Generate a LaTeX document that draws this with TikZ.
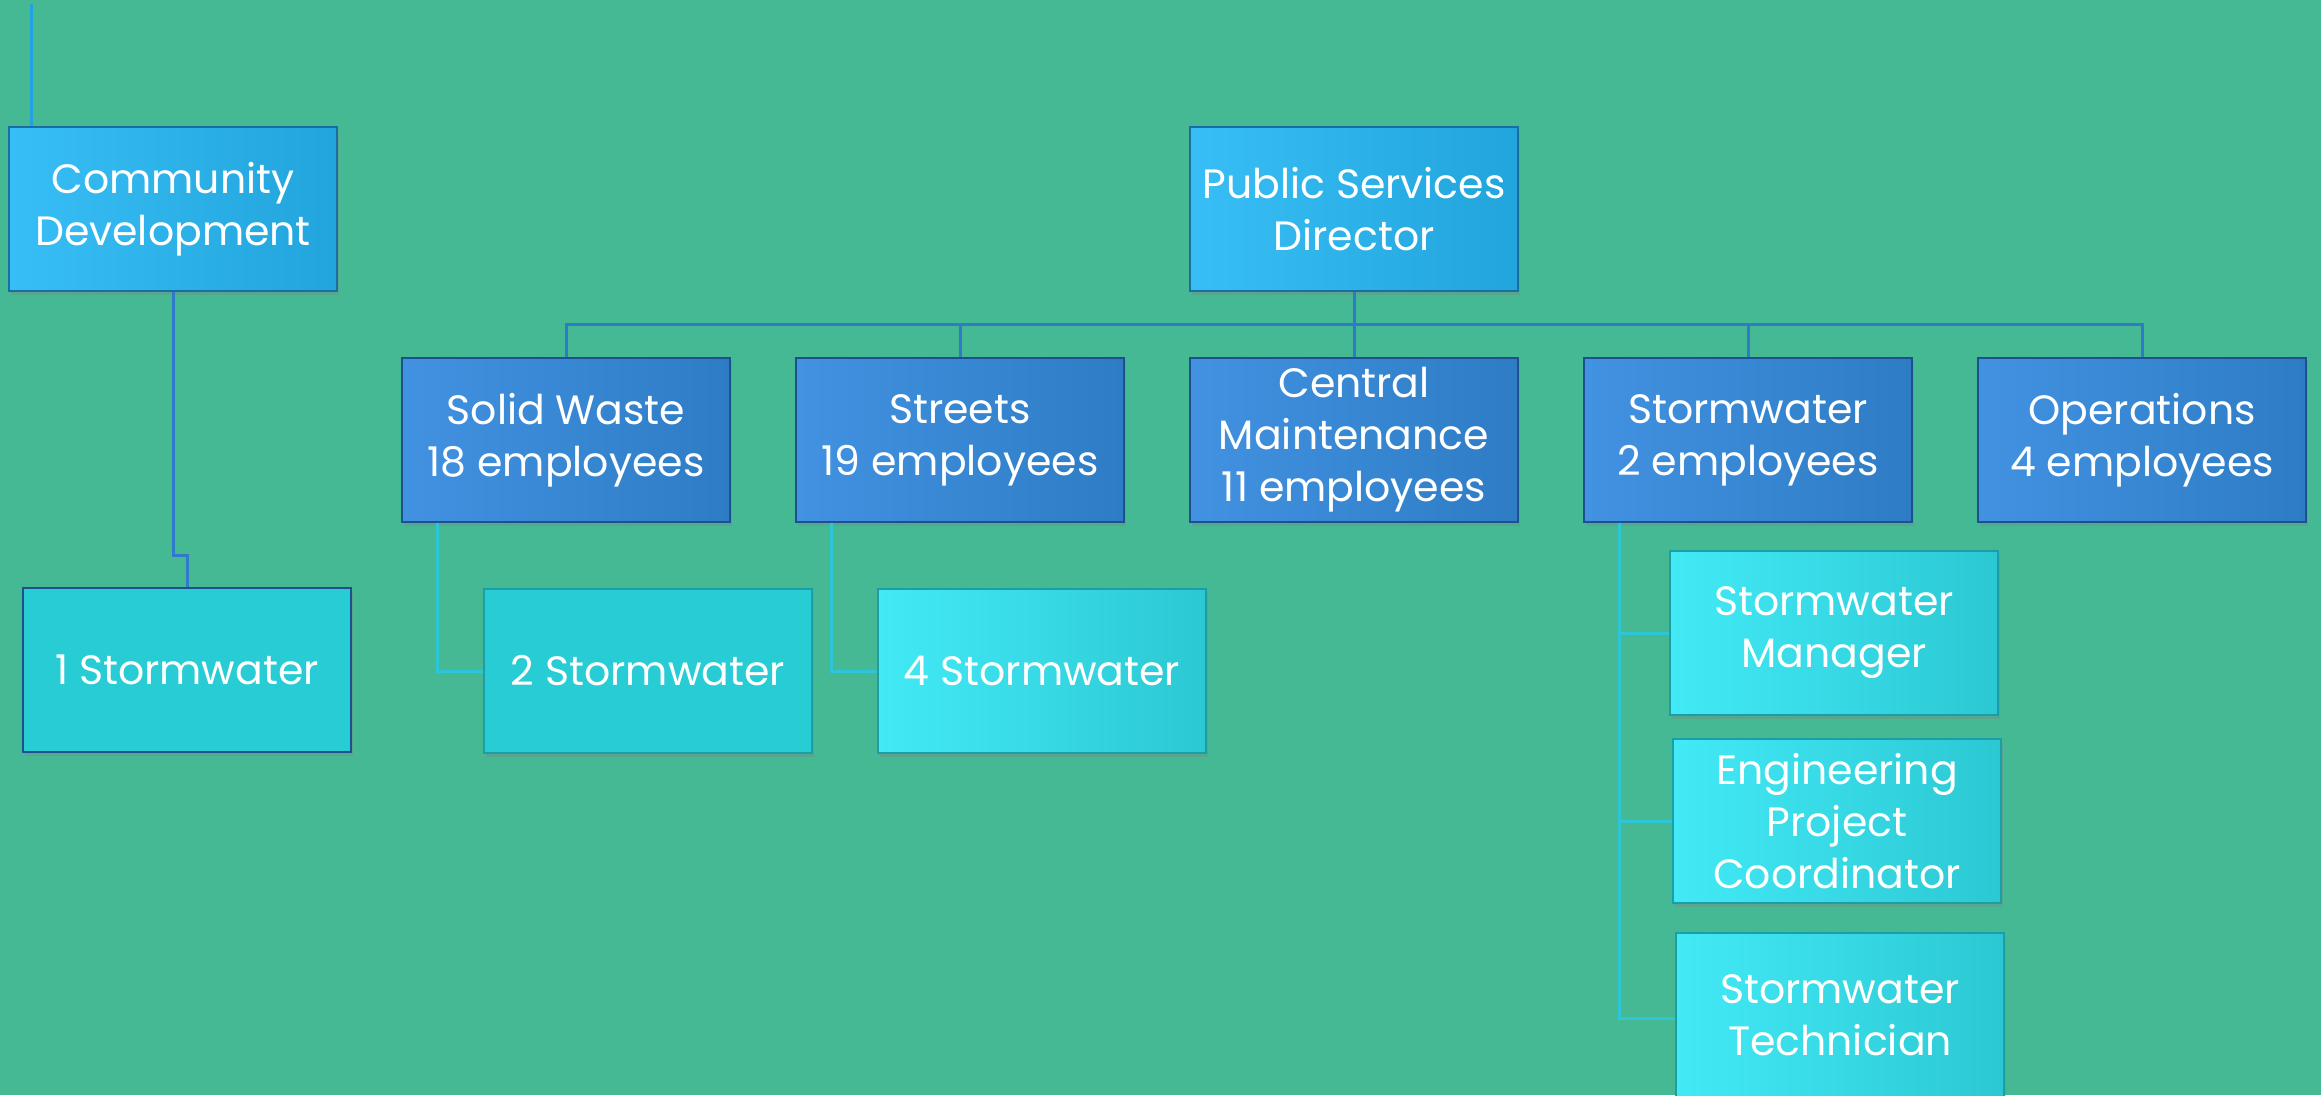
\documentclass[tikz,border=0pt]{standalone}
\usepackage{fontspec}
\setmainfont{Poppins}
\usetikzlibrary{positioning, calc, shadows}
\definecolor{bggreen}{HTML}{45B994}
\definecolor{headlight}{HTML}{38BEF6}
\definecolor{headdark}{HTML}{22A4DC}
\definecolor{headrim}{HTML}{1B6FA0}
\definecolor{deptlight}{HTML}{4292E2}
\definecolor{deptdark}{HTML}{2E7CC4}
\definecolor{deptrim}{HTML}{1E4F8E}
\definecolor{flatcyan}{HTML}{28CCD4}
\definecolor{cyanlight}{HTML}{42EAF6}
\definecolor{cyandark}{HTML}{2BC8D3}
\definecolor{cyanrim}{HTML}{1C9EA8}
\definecolor{linkblue}{HTML}{2F7BC9}
\definecolor{linkcyan}{HTML}{2CC6D8}
\definecolor{linktop}{HTML}{22A2E2}

\begin{document}
\begin{tikzpicture}[x=1pt,y=-1pt,node distance=394pt,semithick]
  \tikzstyle{box}=[rectangle,minimum width=328pt,minimum height=164pt,inner sep=0pt,align=center,
    text=white,font=\fontsize{41}{52}\selectfont,line width=1.5pt,
    drop shadow={opacity=0.3,shadow xshift=2pt,shadow yshift=-4pt}]
  \tikzstyle{head}=[box,draw=headrim,left color=headlight,right color=headdark]
  \tikzstyle{dept}=[box,draw=deptrim,left color=deptlight,right color=deptdark]
  \tikzstyle{unitflat}=[box,draw=cyanrim,fill=flatcyan]
  \tikzstyle{unit}=[box,draw=cyanrim,left color=cyanlight,right color=cyandark]
  \tikzstyle{link}=[line width=3pt,draw=linkblue]
  \tikzstyle{sublink}=[line width=3pt,draw=linkcyan]

  \useasboundingbox (0,0) rectangle (2321,1095);
  \fill[bggreen] (0,0) rectangle (2321,1095);

  \coordinate (up) at (31,4);

  \node[head] (cd) at (173,209) {Community\\Development};
  \node[head] (dir) at (1354,209) {Public Services\\Director};

  \node[dept] (sw) at (566,440) {Solid Waste\\18 employees};
  \node[dept] (st) [right of=sw] {Streets\\19 employees};
  \node[dept] (cm) [right of=st] {Central\\Maintenance\\11 employees};
  \node[dept] (sto) [right of=cm] {Stormwater\\2 employees};
  \node[dept] (op) [right of=sto] {Operations\\4 employees};

  \node[unitflat,draw=deptrim] (st1) at (187,670) {1 Stormwater};
  \node[unitflat] (st2) at (648,671) {2 Stormwater};
  \node[unit] (st4) at (1042,671) {4 Stormwater};
  \node[unit] (mgr) at (1834,633) {Stormwater\\Manager};
  \node[unit] (eng) at (1837,821) {Engineering\\Project\\Coordinator};
  \node[unit] (tech) at (1840,1015) {Stormwater\\Technician};

  \draw[link,draw=linktop] (up) -- (up |- cd.north);
  \draw[link] (cd.south) -- ++(0,264) -| (st1.north);
  \foreach \n in {sw,st,cm,sto,op}
    \draw[link] (dir.south) -- ++(0,33) -| (\n.north);

  \draw[sublink] ([xshift=-129pt]sw.south) |- (st2.west);
  \draw[sublink] ([xshift=-129pt]st.south) |- (st4.west);
  \foreach \n in {mgr,eng}
    \draw[sublink] ([xshift=-129pt]sto.south) |- (\n.west);
  \draw[sublink] ([xshift=-129pt]sto.south) |- ([yshift=-3pt]tech.west);
\end{tikzpicture}
\end{document}
